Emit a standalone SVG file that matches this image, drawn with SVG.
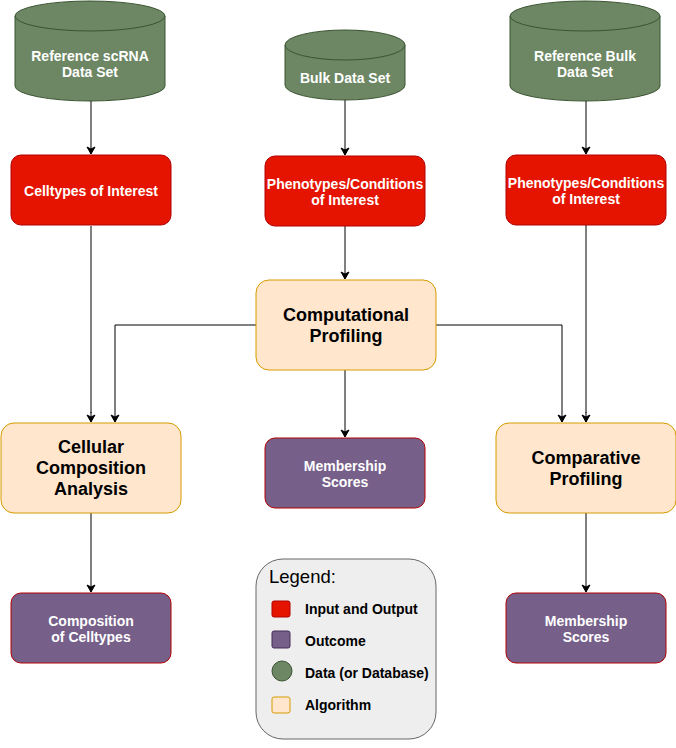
<svg xmlns="http://www.w3.org/2000/svg" width="676" height="748" viewBox="0 0 676 748">
<style>
text{font-family:"Liberation Sans",Arial,sans-serif;text-anchor:middle}
.db{fill:#6d8764;stroke:#3a5431;stroke-width:1}
.wt{fill:#ffffff;font-size:14px;font-weight:bold}
.red{fill:#e51400;stroke:#b20000;stroke-width:1}
.pur{fill:#76608a;stroke:#b20000;stroke-width:1}
.alg{fill:#ffe6cc;stroke:#d79b00;stroke-width:1}
.bt{fill:#000000;font-size:18px;font-weight:bold}
.c{fill:none;stroke:#000000;stroke-width:1}
.g{fill:none;stroke:#808080;stroke-width:2}
.lt{fill:#000000;font-size:14px;font-weight:bold;text-anchor:start}
</style>
<defs>
<marker id="ah" markerWidth="10" markerHeight="10" refX="8" refY="5" orient="auto" markerUnits="userSpaceOnUse">
<path d="M1,1 L8,5 L1,9 L3,5 Z" fill="#000000" stroke="#000000" stroke-width="1"/>
</marker>
</defs>
<g id="connectors">
<path class="c" d="M91,101 V154" marker-end="url(#ah)"/>
<path class="c" d="M345,100 V155" marker-end="url(#ah)"/>
<path class="c" d="M586,101 V154" marker-end="url(#ah)"/>
<path class="g" d="M91,226 V413"/>
<path class="c" d="M91,412 V422" marker-end="url(#ah)"/>
<path class="c" d="M345,226 V279" marker-end="url(#ah)"/>
<path class="c" d="M256,325 H115 V422" marker-end="url(#ah)"/>
<path class="c" d="M436,325 H562 V422" marker-end="url(#ah)"/>
<path class="g" d="M586,225 V413"/>
<path class="c" d="M586,412 V422" marker-end="url(#ah)"/>
<path class="c" d="M345,370 V437" marker-end="url(#ah)"/>
<path class="g" d="M91,513 V553"/>
<path class="c" d="M91,553 V592" marker-end="url(#ah)"/>
<path class="c" d="M586,513 V592" marker-end="url(#ah)"/>
</g>
<g id="db-scrna">
<path class="db" d="M15,16 A75,15 0 0 1 165,16 V86 A75,15 0 0 1 15,86 Z"/>
<path class="db" d="M15,16 A75,15 0 0 0 165,16" fill="none"/>
<text class="wt" x="90" y="61">Reference scRNA</text>
<text class="wt" x="90" y="77">Data Set</text>
</g>
<g id="db-bulk">
<path class="db" d="M285,45 A60,15 0 0 1 405,45 V85 A60,15 0 0 1 285,85 Z"/>
<path class="db" d="M285,45 A60,15 0 0 0 405,45" fill="none"/>
<text class="wt" x="345" y="83">Bulk Data Set</text>
</g>
<g id="db-refbulk">
<path class="db" d="M510,16 A75,15 0 0 1 660,16 V86 A75,15 0 0 1 510,86 Z"/>
<path class="db" d="M510,16 A75,15 0 0 0 660,16" fill="none"/>
<text class="wt" x="585" y="61">Reference Bulk</text>
<text class="wt" x="585" y="77">Data Set</text>
</g>
<g id="celltypes">
<rect class="red" x="11" y="155" width="160" height="70" rx="10"/>
<text class="wt" x="91" y="196">Celltypes of Interest</text>
</g>
<g id="pheno1">
<rect class="red" x="265" y="156" width="160" height="70" rx="10"/>
<text class="wt" x="345" y="189">Phenotypes/Conditions</text>
<text class="wt" x="345" y="205">of Interest</text>
</g>
<g id="pheno2">
<rect class="red" x="506" y="155" width="160" height="70" rx="10"/>
<text class="wt" x="586" y="188">Phenotypes/Conditions</text>
<text class="wt" x="586" y="204">of Interest</text>
</g>
<g id="comp-profiling">
<rect class="alg" x="256" y="280" width="180" height="90" rx="13"/>
<text class="bt" x="346" y="321">Computational</text>
<text class="bt" x="346" y="342">Profiling</text>
</g>
<g id="cell-comp">
<rect class="alg" x="1" y="423" width="180" height="90" rx="13"/>
<text class="bt" x="91" y="453">Cellular</text>
<text class="bt" x="91" y="474">Composition</text>
<text class="bt" x="91" y="495">Analysis</text>
</g>
<g id="compar-profiling">
<rect class="alg" x="496" y="423" width="180" height="90" rx="13"/>
<text class="bt" x="586" y="464">Comparative</text>
<text class="bt" x="586" y="485">Profiling</text>
</g>
<g id="membership1">
<rect class="pur" x="265" y="438" width="160" height="70" rx="10"/>
<text class="wt" x="345" y="471">Membership</text>
<text class="wt" x="345" y="487">Scores</text>
</g>
<g id="composition">
<rect class="pur" x="11" y="593" width="160" height="70" rx="10"/>
<text class="wt" x="91" y="626">Composition</text>
<text class="wt" x="91" y="642">of Celltypes</text>
</g>
<g id="membership2">
<rect class="pur" x="506" y="593" width="160" height="70" rx="10"/>
<text class="wt" x="586" y="626">Membership</text>
<text class="wt" x="586" y="642">Scores</text>
</g>
<g id="legend">
<rect x="256" y="559" width="180" height="180" rx="27" fill="#eeeeee" stroke="#666666" stroke-width="1"/>
<text x="269" y="583" style="font-size:18.5px;text-anchor:start;fill:#000">Legend:</text>
<rect x="272" y="601" width="18" height="16" rx="2" fill="#e51400" stroke="#b20000"/>
<text class="lt" x="305" y="614">Input and Output</text>
<rect x="272" y="631" width="18" height="17" rx="2" fill="#76608a" stroke="#432d57"/>
<text class="lt" x="305" y="646">Outcome</text>
<circle cx="282" cy="671" r="10" fill="#6d8764" stroke="#3a5431"/>
<text class="lt" x="305" y="678">Data (or Database)</text>
<rect x="272" y="697" width="18" height="16" rx="2" fill="#ffe6cc" stroke="#d79b00"/>
<text class="lt" x="305" y="710">Algorithm</text>
</g>
</svg>
